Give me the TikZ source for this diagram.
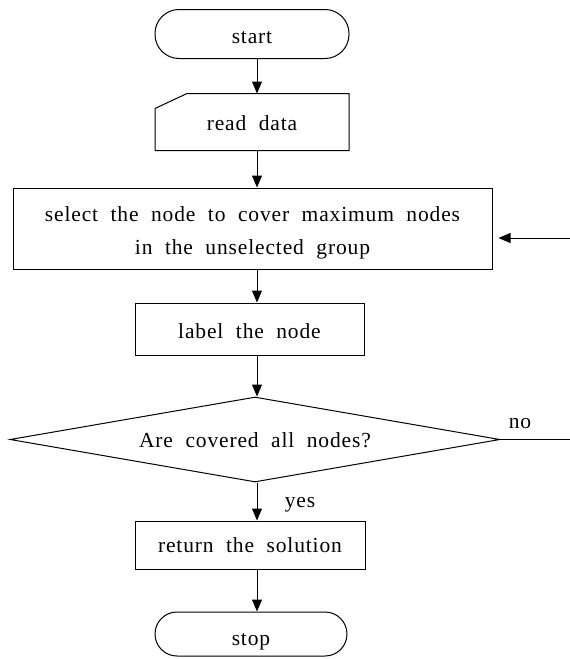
\documentclass[tikz,border=0pt]{standalone}
\usepackage{fontspec}
\setmainfont{Liberation Serif}[WordSpace=2, LetterSpace=4]
\usetikzlibrary{shapes.geometric, arrows.meta}
\begin{document}
\begin{tikzpicture}[x=1pt, y=-1pt,
  font=\fontsize{21.5}{33}\selectfont,
  line width=1pt,
  boxnode/.style={draw, rectangle, inner sep=0pt, align=center, text depth=0pt},
  termnode/.style={draw, rectangle, inner sep=0pt, align=center, text depth=0pt},
  arr/.style={-{Triangle[length=12pt,width=10pt]}}]
\useasboundingbox (0,0) rectangle (570,659);
\coordinate (col) at (257,0);
\node[termnode, minimum width=194pt, minimum height=49pt, rounded corners=24pt, text height=18pt] (start) at (252,34) {start};
\node[inner sep=0pt, minimum width=193pt, minimum height=56pt, text height=16pt, text depth=0pt] (read) at (252,122) {read data};
\draw (read.south west) -- (read.south east) -- (read.north east)
  -- ([xshift=32pt]read.north west) -- ([yshift=-15pt]read.north west) -- cycle;
\node[boxnode, minimum width=479pt, minimum height=81pt, text height=51pt] (sel) at (252.5,228.5)
  {select the node to cover maximum nodes\\in the unselected group};
\node[boxnode, minimum width=229pt, minimum height=52pt, text height=19pt] (lab) at (249.5,329) {label the node};
\node[draw, diamond, inner sep=0pt, aspect=5.76, minimum width=490pt, minimum height=85pt, text height=15pt, text depth=0pt] (dia) at (255,439.5) {Are covered all nodes?};
\node[boxnode, minimum width=230pt, minimum height=48pt, text height=14pt] (ret) at (250,545) {return the solution};
\node[termnode, minimum width=192pt, minimum height=44pt, rounded corners=22pt, text height=22pt] (stop) at (251,634) {stop};
\coordinate (noend) at (570,439.5);
\coordinate (backin) at (570,238);
\draw[arr] (start.south -| col) -- (read.north -| col);
\draw[arr] (read.south -| col) -- (sel.north -| col);
\draw[arr] (sel.south -| col) -- (lab.north -| col);
\draw[arr] (lab.south -| col) -- (dia.north -| col);
\draw[arr] (dia.south -| col) -- (ret.north -| col);
\draw[arr] (ret.south -| col) -- (stop.north -| col);
\draw (dia.east) -- (noend);
\draw[arr, shorten >=6pt] (backin) -- (sel.east |- backin);
\node[anchor=base] (no) at (520,428) {no};
\node[anchor=base] (yes) at (300,507) {yes};
\end{tikzpicture}
\end{document}
